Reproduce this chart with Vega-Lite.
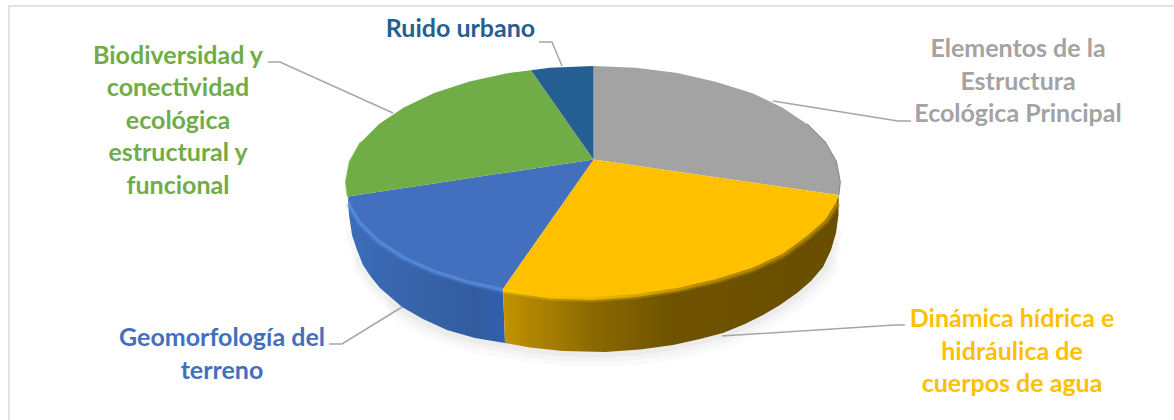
{
  "$schema": "https://vega.github.io/schema/vega-lite/v6.json",
  "width": 1174,
  "height": 420,
  "autosize": {"type": "none"},
  "padding": 0,
  "background": "#ffffff",
  "config": {"view": {"stroke": null}},
  "datasets": {
    "top": [
      {"s":"Elementos","i":0,"x":593.5,"y":159.5},{"s":"Elementos","i":1,"x":593.5,"y":66},{"s":"Elementos","i":2,"x":636,"y":67.8},{"s":"Elementos","i":3,"x":677.5,"y":73},{"s":"Elementos","i":4,"x":716.5,"y":82},{"s":"Elementos","i":5,"x":751.8,"y":93},{"s":"Elementos","i":6,"x":782.2,"y":107.4},{"s":"Elementos","i":7,"x":806.9,"y":124},{"s":"Elementos","i":8,"x":825.1,"y":142.3},{"s":"Elementos","i":9,"x":836.2,"y":161.8},{"s":"Elementos","i":10,"x":840,"y":182},{"s":"Elementos","i":11,"x":838.6,"y":195},
      {"s":"Dinamica","i":0,"x":593.5,"y":159.5},{"s":"Dinamica","i":1,"x":838.6,"y":195},{"s":"Dinamica","i":2,"x":836.2,"y":202.2},{"s":"Dinamica","i":3,"x":825.1,"y":220},{"s":"Dinamica","i":4,"x":806.9,"y":236},{"s":"Dinamica","i":5,"x":782.2,"y":254},{"s":"Dinamica","i":6,"x":751.8,"y":268},{"s":"Dinamica","i":7,"x":716.5,"y":279},{"s":"Dinamica","i":8,"x":677.5,"y":288},{"s":"Dinamica","i":9,"x":636,"y":294},{"s":"Dinamica","i":10,"x":593,"y":297},{"s":"Dinamica","i":11,"x":550,"y":295.5},{"s":"Dinamica","i":12,"x":503,"y":288.5},
      {"s":"Geomorfologia","i":0,"x":593.5,"y":159.5},{"s":"Geomorfologia","i":1,"x":503,"y":288.5},{"s":"Geomorfologia","i":2,"x":469.5,"y":281},{"s":"Geomorfologia","i":3,"x":434.2,"y":270},{"s":"Geomorfologia","i":4,"x":403.8,"y":256},{"s":"Geomorfologia","i":5,"x":379.1,"y":240},{"s":"Geomorfologia","i":6,"x":360.9,"y":222},{"s":"Geomorfologia","i":7,"x":349.8,"y":203},{"s":"Geomorfologia","i":8,"x":347.8,"y":196.5},
      {"s":"Biodiversidad","i":0,"x":593.5,"y":159.5},{"s":"Biodiversidad","i":1,"x":347.8,"y":196.5},{"s":"Biodiversidad","i":2,"x":346,"y":182},{"s":"Biodiversidad","i":3,"x":349.8,"y":161.8},{"s":"Biodiversidad","i":4,"x":360.9,"y":142.3},{"s":"Biodiversidad","i":5,"x":379.1,"y":124},{"s":"Biodiversidad","i":6,"x":403.8,"y":107.4},{"s":"Biodiversidad","i":7,"x":434.2,"y":93},{"s":"Biodiversidad","i":8,"x":469.5,"y":81.5},{"s":"Biodiversidad","i":9,"x":508.5,"y":73},{"s":"Biodiversidad","i":10,"x":531,"y":70.3},
      {"s":"Ruido","i":0,"x":593.5,"y":159.5},{"s":"Ruido","i":1,"x":531,"y":70.3},{"s":"Ruido","i":2,"x":550,"y":67.8},{"s":"Ruido","i":3,"x":593.5,"y":66}
    ],
    "sideBlue": [
      {"i":0,"x":347.8,"y":196.5},{"i":1,"x":349.8,"y":203},{"i":2,"x":360.9,"y":222},{"i":3,"x":379.1,"y":240},{"i":4,"x":403.8,"y":256},{"i":5,"x":434.2,"y":270},{"i":6,"x":469.5,"y":281},{"i":7,"x":503,"y":288.5},
      {"i":8,"x":505,"y":343},{"i":9,"x":475,"y":338},{"i":10,"x":447,"y":330},{"i":11,"x":423,"y":319},{"i":12,"x":402,"y":307},{"i":13,"x":380,"y":288},{"i":14,"x":371,"y":277},{"i":15,"x":363,"y":265},{"i":16,"x":357,"y":250},{"i":17,"x":352,"y":235},{"i":18,"x":349,"y":215}
    ],
    "sideYellow": [
      {"i":0,"x":503,"y":288.5},{"i":1,"x":550,"y":295.5},{"i":2,"x":593,"y":297},{"i":3,"x":636,"y":294},{"i":4,"x":677.5,"y":288},{"i":5,"x":716.5,"y":279},{"i":6,"x":751.8,"y":268},{"i":7,"x":782.2,"y":254},{"i":8,"x":806.9,"y":236},{"i":9,"x":825.1,"y":220},{"i":10,"x":836.2,"y":202.2},{"i":11,"x":838.6,"y":195},
      {"i":12,"x":838.5,"y":215},{"i":13,"x":836,"y":233},{"i":14,"x":831,"y":250},{"i":15,"x":823,"y":267},{"i":16,"x":811,"y":281},{"i":17,"x":797,"y":293},{"i":18,"x":780,"y":305},{"i":19,"x":763,"y":315},{"i":20,"x":745,"y":324},{"i":21,"x":723,"y":333},{"i":22,"x":700,"y":339},{"i":23,"x":673,"y":345},{"i":24,"x":640,"y":349.5},{"i":25,"x":605,"y":352},{"i":26,"x":563,"y":351},{"i":27,"x":530,"y":347.5},{"i":28,"x":505,"y":343}
    ],
    "lowerEdge": [
      {"i":0,"x":347.8,"y":196.5},{"i":1,"x":349,"y":215},{"i":2,"x":352,"y":235},{"i":3,"x":357,"y":250},{"i":4,"x":363,"y":265},{"i":5,"x":371,"y":277},{"i":6,"x":380,"y":288},{"i":7,"x":402,"y":307},{"i":8,"x":423,"y":319},{"i":9,"x":447,"y":330},{"i":10,"x":475,"y":338},{"i":11,"x":505,"y":343},{"i":12,"x":530,"y":347.5},{"i":13,"x":563,"y":351},{"i":14,"x":605,"y":352},{"i":15,"x":640,"y":349.5},{"i":16,"x":673,"y":345},{"i":17,"x":700,"y":339},{"i":18,"x":723,"y":333},{"i":19,"x":745,"y":324},{"i":20,"x":763,"y":315},{"i":21,"x":780,"y":305},{"i":22,"x":797,"y":293},{"i":23,"x":811,"y":281},{"i":24,"x":823,"y":267},{"i":25,"x":831,"y":250},{"i":26,"x":836,"y":233},{"i":27,"x":838.5,"y":215},{"i":28,"x":840,"y":195}
    ],
    "rimBlue": [
      {"i":0,"x":349.8,"y":203},{"i":1,"x":360.9,"y":222},{"i":2,"x":379.1,"y":240},{"i":3,"x":403.8,"y":256},{"i":4,"x":434.2,"y":270},{"i":5,"x":469.5,"y":281},{"i":6,"x":503,"y":288.5}
    ],
    "rimYellow": [
      {"i":0,"x":503,"y":288.5},{"i":1,"x":550,"y":295.5},{"i":2,"x":593,"y":297},{"i":3,"x":636,"y":294},{"i":4,"x":677.5,"y":288},{"i":5,"x":716.5,"y":279},{"i":6,"x":751.8,"y":268},{"i":7,"x":782.2,"y":254},{"i":8,"x":806.9,"y":236},{"i":9,"x":825.1,"y":220},{"i":10,"x":836.2,"y":202.2}
    ],
    "rimGray": [
      {"i":0,"x":806.9,"y":124},{"i":1,"x":825.1,"y":142.3},{"i":2,"x":836.2,"y":161.8},{"i":3,"x":840,"y":182},{"i":4,"x":838.6,"y":195}
    ],
    "rimGreen": [
      {"i":0,"x":347.8,"y":196.5},{"i":1,"x":346,"y":182},{"i":2,"x":349.8,"y":161.8},{"i":3,"x":360.9,"y":142.3}
    ],
    "leaders": [
      {"s":"Elementos","i":0,"x":773,"y":101},{"s":"Elementos","i":1,"x":898,"y":121},{"s":"Elementos","i":2,"x":911,"y":121},
      {"s":"Dinamica","i":0,"x":722,"y":336},{"s":"Dinamica","i":1,"x":895,"y":325},{"s":"Dinamica","i":2,"x":905,"y":325},
      {"s":"Geomorfologia","i":0,"x":402,"y":307},{"s":"Geomorfologia","i":1,"x":342,"y":344},{"s":"Geomorfologia","i":2,"x":329,"y":344},
      {"s":"Biodiversidad","i":0,"x":393,"y":113},{"s":"Biodiversidad","i":1,"x":280,"y":62},{"s":"Biodiversidad","i":2,"x":268,"y":62},
      {"s":"Ruido","i":0,"x":562,"y":66},{"s":"Ruido","i":1,"x":552,"y":42},{"s":"Ruido","i":2,"x":539,"y":42}
    ],
    "frame": [
      {"i":0,"x":9,"y":420},{"i":1,"x":9,"y":6},{"i":2,"x":1174,"y":6}
    ],
    "labels": [
      {"s":"Elementos","t":"Elementos de la","x":1018,"y":49},
      {"s":"Elementos","t":"Estructura","x":1018,"y":82},
      {"s":"Elementos","t":"Ecológica Principal","x":1018,"y":114},
      {"s":"Dinamica","t":"Dinámica hídrica e","x":1012,"y":319},
      {"s":"Dinamica","t":"hidráulica de","x":1012,"y":352},
      {"s":"Dinamica","t":"cuerpos de agua","x":1012,"y":384},
      {"s":"Geomorfologia","t":"Geomorfología del","x":222,"y":338},
      {"s":"Geomorfologia","t":"terreno","x":222,"y":371},
      {"s":"Biodiversidad","t":"Biodiversidad y","x":178,"y":56},
      {"s":"Biodiversidad","t":"conectividad","x":178,"y":88},
      {"s":"Biodiversidad","t":"ecológica","x":178,"y":121},
      {"s":"Biodiversidad","t":"estructural y","x":178,"y":153},
      {"s":"Biodiversidad","t":"funcional","x":178,"y":186},
      {"s":"Ruido","t":"Ruido urbano","x":460.5,"y":29}
    ]
  },
  "encoding": {
    "x": {"field": "x", "type": "quantitative", "axis": null, "scale": {"domain": [0, 1174], "nice": false, "zero": false}},
    "y": {"field": "y", "type": "quantitative", "axis": null, "scale": {"domain": [420, 0], "nice": false, "zero": false}},
    "order": {"field": "i", "type": "quantitative"}
  },
  "layer": [
    {"data": {"name": "frame"}, "mark": {"type": "line", "stroke": "#d9d9d9", "strokeWidth": 1.5}},
    {"data": {"name": "lowerEdge"}, "transform": [{"filter": "datum.i >= 7 && datum.i <= 24"}],
      "mark": {"type": "line", "stroke": "#000000", "strokeOpacity": 0.02, "strokeWidth": 30, "strokeCap": "round"}},
    {"data": {"name": "lowerEdge"}, "transform": [{"filter": "datum.i >= 4 && datum.i <= 25"}],
      "mark": {"type": "line", "stroke": "#000000", "strokeOpacity": 0.025, "strokeWidth": 20, "strokeCap": "round"}},
    {"data": {"name": "lowerEdge"}, "transform": [{"filter": "datum.i >= 2 && datum.i <= 26"}],
      "mark": {"type": "line", "stroke": "#000000", "strokeOpacity": 0.03, "strokeWidth": 11, "strokeCap": "round"}},
    {"data": {"name": "sideBlue"}, "mark": {"type": "line", "filled": true, "strokeWidth": 0,
      "fill": {"gradient": "linear", "x1": 0, "x2": 1, "y1": 0, "y2": 0, "stops": [
        {"offset": 0, "color": "#3b6dbb"}, {"offset": 0.4, "color": "#3864ab"}, {"offset": 0.8, "color": "#325c9f"}, {"offset": 1, "color": "#2f5fae"}]}}},
    {"data": {"name": "sideYellow"}, "mark": {"type": "line", "filled": true, "strokeWidth": 0,
      "fill": {"gradient": "linear", "x1": 0, "x2": 1, "y1": 0, "y2": 0, "stops": [
        {"offset": 0, "color": "#c29200"}, {"offset": 0.1, "color": "#ad8300"}, {"offset": 0.28, "color": "#8a6800"}, {"offset": 0.5, "color": "#6f5300"}, {"offset": 1, "color": "#694e00"}]}}},
    {"data": {"name": "rimBlue"}, "mark": {"type": "line", "stroke": "#5c92e6", "strokeWidth": 10, "strokeOpacity": 0.25}},
    {"data": {"name": "rimBlue"}, "mark": {"type": "line", "stroke": "#5c92e6", "strokeWidth": 6, "strokeOpacity": 0.65}},
    {"data": {"name": "rimYellow"}, "mark": {"type": "line", "strokeWidth": 10, "strokeOpacity": 0.35,
      "stroke": {"gradient": "linear", "x1": 0, "x2": 1, "y1": 0, "y2": 0, "stops": [
        {"offset": 0, "color": "#ffcc00"}, {"offset": 0.3, "color": "#e8b400"}, {"offset": 0.6, "color": "#b38a00"}, {"offset": 1, "color": "#a88000"}]}}},
    {"data": {"name": "rimYellow"}, "mark": {"type": "line", "strokeWidth": 6,
      "stroke": {"gradient": "linear", "x1": 0, "x2": 1, "y1": 0, "y2": 0, "stops": [
        {"offset": 0, "color": "#ffcc00"}, {"offset": 0.3, "color": "#e8b400"}, {"offset": 0.6, "color": "#b38a00"}, {"offset": 1, "color": "#a88000"}]}}},
    {"data": {"name": "rimGray"}, "mark": {"type": "line", "stroke": "#7d7d7d", "strokeWidth": 1.6}},
    {"data": {"name": "rimGreen"}, "mark": {"type": "line", "stroke": "#82c35a", "strokeWidth": 2}},
    {"data": {"name": "top"}, "mark": {"type": "line", "filled": true, "strokeWidth": 0},
      "encoding": {"color": {"field": "s", "type": "nominal", "legend": null,
        "scale": {"domain": ["Elementos", "Dinamica", "Geomorfologia", "Biodiversidad", "Ruido"],
                  "range": ["#a3a3a3", "#ffc000", "#4270bf", "#70ad47", "#255e91"]}}}},
    {"data": {"name": "leaders"}, "mark": {"type": "line", "stroke": "#a6a6a6", "strokeWidth": 1.5},
      "encoding": {"detail": {"field": "s"}}},
    {"data": {"name": "labels"},
      "mark": {"type": "text", "font": "Lato", "fontWeight": "bold", "fontSize": 25, "align": "center", "baseline": "middle"},
      "encoding": {"text": {"field": "t"}, "order": null,
        "color": {"field": "s", "type": "nominal", "legend": null,
          "scale": {"domain": ["Elementos", "Dinamica", "Geomorfologia", "Biodiversidad", "Ruido"],
                    "range": ["#a5a5a5", "#ffc000", "#4472c4", "#70ad47", "#255e91"]}}}}
  ]
}
